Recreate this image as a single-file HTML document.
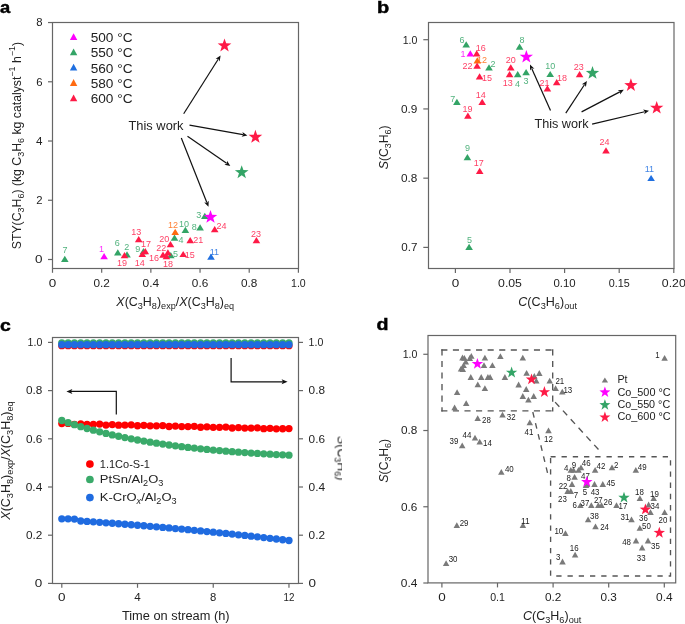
<!DOCTYPE html>
<html><head><meta charset="utf-8"><style>
html,body{margin:0;padding:0;background:#fff;}
body{width:685px;height:624px;overflow:hidden;}
svg{display:block;font-family:"Liberation Sans",sans-serif;will-change:transform;}
</style></head><body>
<svg width="685" height="624" viewBox="0 0 685 624">
<rect width="685" height="624" fill="#fff"/>
<text x="0" y="12.9" font-size="17" fill="#000" text-anchor="start" font-weight="bold" stroke="#000" stroke-width="0.45" textLength="10.2" lengthAdjust="spacingAndGlyphs">a</text>
<text x="376.9" y="13.3" font-size="17" fill="#000" text-anchor="start" font-weight="bold" stroke="#000" stroke-width="0.45" textLength="12.2" lengthAdjust="spacingAndGlyphs">b</text>
<text x="0" y="330.5" font-size="17" fill="#000" text-anchor="start" font-weight="bold" stroke="#000" stroke-width="0.45" textLength="10.8" lengthAdjust="spacingAndGlyphs">c</text>
<text x="376.5" y="330.2" font-size="17" fill="#000" text-anchor="start" font-weight="bold" stroke="#000" stroke-width="0.45" textLength="12" lengthAdjust="spacingAndGlyphs">d</text>
<rect x="52.5" y="22.5" width="246" height="246" fill="none" stroke="#666" stroke-width="1.2" />
<line x1="48" y1="259.5" x2="52.5" y2="259.5" stroke="#666" stroke-width="1.2" />
<text x="42.5" y="263.35" font-size="10.8" fill="#222" text-anchor="end"  textLength="7.5" lengthAdjust="spacingAndGlyphs">0</text>
<line x1="48" y1="200.26" x2="52.5" y2="200.26" stroke="#666" stroke-width="1.2" />
<text x="42.5" y="204.11" font-size="10.8" fill="#222" text-anchor="end"  textLength="6.3" lengthAdjust="spacingAndGlyphs">2</text>
<line x1="48" y1="141.02" x2="52.5" y2="141.02" stroke="#666" stroke-width="1.2" />
<text x="42.5" y="144.87" font-size="10.8" fill="#222" text-anchor="end"  textLength="6.5" lengthAdjust="spacingAndGlyphs">4</text>
<line x1="48" y1="81.78" x2="52.5" y2="81.78" stroke="#666" stroke-width="1.2" />
<text x="42.5" y="85.63" font-size="10.8" fill="#222" text-anchor="end"  textLength="6.3" lengthAdjust="spacingAndGlyphs">6</text>
<line x1="48" y1="22.54" x2="52.5" y2="22.54" stroke="#666" stroke-width="1.2" />
<text x="42.5" y="26.39" font-size="10.8" fill="#222" text-anchor="end"  textLength="6.3" lengthAdjust="spacingAndGlyphs">8</text>
<line x1="52.5" y1="268.5" x2="52.5" y2="272.8" stroke="#666" stroke-width="1.2" />
<text x="52.5" y="286.9" font-size="10.8" fill="#222" text-anchor="middle"  textLength="7.5" lengthAdjust="spacingAndGlyphs">0</text>
<line x1="101.68" y1="268.5" x2="101.68" y2="272.8" stroke="#666" stroke-width="1.2" />
<text x="101.68" y="286.9" font-size="10.8" fill="#222" text-anchor="middle"  textLength="16.4" lengthAdjust="spacingAndGlyphs">0.2</text>
<line x1="150.86" y1="268.5" x2="150.86" y2="272.8" stroke="#666" stroke-width="1.2" />
<text x="150.86" y="286.9" font-size="10.8" fill="#222" text-anchor="middle"  textLength="16.6" lengthAdjust="spacingAndGlyphs">0.4</text>
<line x1="200.04" y1="268.5" x2="200.04" y2="272.8" stroke="#666" stroke-width="1.2" />
<text x="200.04" y="286.9" font-size="10.8" fill="#222" text-anchor="middle"  textLength="16.4" lengthAdjust="spacingAndGlyphs">0.6</text>
<line x1="249.22" y1="268.5" x2="249.22" y2="272.8" stroke="#666" stroke-width="1.2" />
<text x="249.22" y="286.9" font-size="10.8" fill="#222" text-anchor="middle"  textLength="16.4" lengthAdjust="spacingAndGlyphs">0.8</text>
<line x1="298.4" y1="268.5" x2="298.4" y2="272.8" stroke="#666" stroke-width="1.2" />
<text x="298.4" y="286.9" font-size="10.8" fill="#222" text-anchor="middle"  textLength="14.7" lengthAdjust="spacingAndGlyphs">1.0</text>
<text x="175.25" y="306" font-size="12.0" fill="#222" text-anchor="middle"  textLength="117.8" lengthAdjust="spacingAndGlyphs"><tspan font-style="italic">X</tspan>(C<tspan font-size="8.8" dy="3">3</tspan><tspan dy="-3">H</tspan><tspan font-size="8.8" dy="3">8</tspan><tspan dy="-3">)</tspan><tspan font-size="8.8" dy="3">exp</tspan><tspan dy="-3">/</tspan><tspan font-style="italic">X</tspan>(C<tspan font-size="8.8" dy="3">3</tspan><tspan dy="-3">H</tspan><tspan font-size="8.8" dy="3">8</tspan><tspan dy="-3">)</tspan><tspan font-size="8.8" dy="3">eq</tspan></text>
<g transform="translate(20.8,145.55) rotate(-90)">
<text x="0" y="0" font-size="12.0" fill="#222" text-anchor="middle"  textLength="207.4" lengthAdjust="spacingAndGlyphs">STY(C<tspan font-size="8.8" dy="3">3</tspan><tspan dy="-3">H</tspan><tspan font-size="8.8" dy="3">6</tspan><tspan dy="-3">) (kg C</tspan><tspan font-size="8.8" dy="3">3</tspan><tspan dy="-3">H</tspan><tspan font-size="8.8" dy="3">6</tspan><tspan dy="-3"> kg catalyst</tspan><tspan font-size="8.8" dy="-5.8">−1</tspan><tspan dy="5.8"> h</tspan><tspan font-size="8.8" dy="-5.8">−1</tspan><tspan dy="5.8">)</tspan></text>
</g>
<path d="M73.6 33.2L77.3 40L69.9 40Z" fill="#ff00ff"/>
<text x="90.7" y="42" font-size="12.3" fill="#222" text-anchor="start"  textLength="41.8" lengthAdjust="spacingAndGlyphs">500 °C</text>
<path d="M73.6 48.5L77.3 55.3L69.9 55.3Z" fill="#33a466"/>
<text x="90.7" y="57.25" font-size="12.3" fill="#222" text-anchor="start"  textLength="41.8" lengthAdjust="spacingAndGlyphs">550 °C</text>
<path d="M73.6 63.8L77.3 70.6L69.9 70.6Z" fill="#1f6fe0"/>
<text x="90.7" y="72.5" font-size="12.3" fill="#222" text-anchor="start"  textLength="41.8" lengthAdjust="spacingAndGlyphs">560 °C</text>
<path d="M73.6 79.1L77.3 85.9L69.9 85.9Z" fill="#ff6a10"/>
<text x="90.7" y="87.75" font-size="12.3" fill="#222" text-anchor="start"  textLength="41.8" lengthAdjust="spacingAndGlyphs">580 °C</text>
<path d="M73.6 94.4L77.3 101.2L69.9 101.2Z" fill="#fe1a46"/>
<text x="90.7" y="103" font-size="12.3" fill="#222" text-anchor="start"  textLength="41.8" lengthAdjust="spacingAndGlyphs">600 °C</text>
<path d="M64.8 255.7L68.6 261.9L61 261.9Z" fill="#33a466"/>
<path d="M117.8 249.2L121.6 255.4L114 255.4Z" fill="#33a466"/>
<path d="M127 251.2L130.8 257.4L123.2 257.4Z" fill="#33a466"/>
<path d="M143.5 248L147.3 254.2L139.7 254.2Z" fill="#33a466"/>
<path d="M170.8 252.1L174.6 258.3L167 258.3Z" fill="#33a466"/>
<path d="M174.5 234.6L178.3 240.8L170.7 240.8Z" fill="#33a466"/>
<path d="M185.4 226.8L189.2 233L181.6 233Z" fill="#33a466"/>
<path d="M200.1 224.3L203.9 230.5L196.3 230.5Z" fill="#33a466"/>
<path d="M204.8 212.7L208.6 218.9L201 218.9Z" fill="#33a466"/>
<path d="M104.1 253.1L107.9 259.3L100.3 259.3Z" fill="#ff00ff"/>
<path d="M175.2 228.7L179 234.9L171.4 234.9Z" fill="#ff6a10"/>
<path d="M211 253.5L214.8 259.7L207.2 259.7Z" fill="#1f6fe0"/>
<path d="M124.5 252.1L128.3 258.3L120.7 258.3Z" fill="#fe1a46"/>
<path d="M138.7 236L142.5 242.2L134.9 242.2Z" fill="#fe1a46"/>
<path d="M145.3 248L149.1 254.2L141.5 254.2Z" fill="#fe1a46"/>
<path d="M142.3 250.9L146.1 257.1L138.5 257.1Z" fill="#fe1a46"/>
<path d="M163 251.6L166.8 257.8L159.2 257.8Z" fill="#fe1a46"/>
<path d="M167.9 249.2L171.7 255.4L164.1 255.4Z" fill="#fe1a46"/>
<path d="M166.4 253.1L170.2 259.3L162.6 259.3Z" fill="#fe1a46"/>
<path d="M170.5 241L174.3 247.2L166.7 247.2Z" fill="#fe1a46"/>
<path d="M183.2 250.9L187 257.1L179.4 257.1Z" fill="#fe1a46"/>
<path d="M190.2 237L194 243.2L186.4 243.2Z" fill="#fe1a46"/>
<path d="M214.7 226.1L218.5 232.3L210.9 232.3Z" fill="#fe1a46"/>
<path d="M256.4 237L260.2 243.2L252.6 243.2Z" fill="#fe1a46"/>
<text x="65" y="253.3" font-size="9" fill="#33a466" text-anchor="middle" fill-opacity="0.85">7</text>
<text x="117.2" y="246.2" font-size="9" fill="#33a466" text-anchor="middle" fill-opacity="0.85">6</text>
<text x="126.7" y="249.9" font-size="9" fill="#33a466" text-anchor="middle" fill-opacity="0.85">2</text>
<text x="137.7" y="251.8" font-size="9" fill="#33a466" text-anchor="middle" fill-opacity="0.85">9</text>
<text x="175.6" y="256.5" font-size="9" fill="#33a466" text-anchor="middle" fill-opacity="0.85">5</text>
<text x="181" y="242.9" font-size="9" fill="#33a466" text-anchor="middle" fill-opacity="0.85">4</text>
<text x="184" y="226.6" font-size="9" fill="#33a466" text-anchor="middle" fill-opacity="0.85">10</text>
<text x="194.2" y="229.9" font-size="9" fill="#33a466" text-anchor="middle" fill-opacity="0.85">8</text>
<text x="198.7" y="217.8" font-size="9" fill="#33a466" text-anchor="middle" fill-opacity="0.85">3</text>
<text x="101.5" y="252.2" font-size="9" fill="#ff00ff" text-anchor="middle" fill-opacity="0.85">1</text>
<text x="173" y="227.7" font-size="9" fill="#ff6a10" text-anchor="middle" fill-opacity="0.85">12</text>
<text x="214.3" y="255" font-size="9" fill="#1f6fe0" text-anchor="middle" fill-opacity="0.85">11</text>
<text x="121.9" y="266.2" font-size="9" fill="#fe1a46" text-anchor="middle" fill-opacity="0.85">19</text>
<text x="136.2" y="235" font-size="9" fill="#fe1a46" text-anchor="middle" fill-opacity="0.85">13</text>
<text x="146" y="247" font-size="9" fill="#fe1a46" text-anchor="middle" fill-opacity="0.85">17</text>
<text x="139.7" y="265.7" font-size="9" fill="#fe1a46" text-anchor="middle" fill-opacity="0.85">14</text>
<text x="154" y="261.2" font-size="9" fill="#fe1a46" text-anchor="middle" fill-opacity="0.85">16</text>
<text x="161.3" y="251.4" font-size="9" fill="#fe1a46" text-anchor="middle" fill-opacity="0.85">22</text>
<text x="167.9" y="266.7" font-size="9" fill="#fe1a46" text-anchor="middle" fill-opacity="0.85">18</text>
<text x="164.2" y="242.3" font-size="9" fill="#fe1a46" text-anchor="middle" fill-opacity="0.85">20</text>
<text x="189.8" y="258.4" font-size="9" fill="#fe1a46" text-anchor="middle" fill-opacity="0.85">15</text>
<text x="198.2" y="242.9" font-size="9" fill="#fe1a46" text-anchor="middle" fill-opacity="0.85">21</text>
<text x="221.6" y="229" font-size="9" fill="#fe1a46" text-anchor="middle" fill-opacity="0.85">24</text>
<text x="255.9" y="236.5" font-size="9" fill="#fe1a46" text-anchor="middle" fill-opacity="0.85">23</text>
<polygon points="224.5,38.5 226.19,43.37 231.35,43.48 227.24,46.59 228.73,51.52 224.5,48.58 220.27,51.52 221.76,46.59 217.65,43.48 222.81,43.37" fill="#fe1a46"/>
<polygon points="255.4,129.8 257.09,134.67 262.25,134.78 258.14,137.89 259.63,142.82 255.4,139.88 251.17,142.82 252.66,137.89 248.55,134.78 253.71,134.67" fill="#fe1a46"/>
<polygon points="241.7,165.2 243.39,170.07 248.55,170.18 244.44,173.29 245.93,178.22 241.7,175.28 237.47,178.22 238.96,173.29 234.85,170.18 240.01,170.07" fill="#33a466"/>
<polygon points="210.5,210 212.17,214.8 217.25,214.91 213.2,217.98 214.67,222.84 210.5,219.94 206.33,222.84 207.8,217.98 203.75,214.91 208.83,214.8" fill="#ff00ff"/>
<text x="128.5" y="130" font-size="12.0" fill="#222" text-anchor="start"  textLength="55" lengthAdjust="spacingAndGlyphs">This work</text>
<line x1="183.7" y1="113.8" x2="218.19" y2="59.3" stroke="#111" stroke-width="1.2"/>
<path d="M220.6 55.5L219.69 61.43L218.39 58.99L215.63 58.86Z" fill="#111"/>
<line x1="189.5" y1="125.1" x2="242.97" y2="134.61" stroke="#111" stroke-width="1.2"/>
<path d="M247.4 135.4L241.56 136.8L243.34 134.68L242.41 132.07Z" fill="#111"/>
<line x1="187.5" y1="136.2" x2="226.6" y2="163.33" stroke="#111" stroke-width="1.2"/>
<path d="M230.3 165.9L224.41 164.74L226.91 163.55L227.15 160.79Z" fill="#111"/>
<line x1="181.3" y1="138" x2="206.84" y2="202.52" stroke="#111" stroke-width="1.2"/>
<path d="M208.5 206.7L204.24 202.47L206.98 202.86L208.71 200.7Z" fill="#111"/>
<rect x="428.5" y="22.5" width="245.5" height="246" fill="none" stroke="#666" stroke-width="1.2" />
<line x1="423.3" y1="39.7" x2="428.5" y2="39.7" stroke="#666" stroke-width="1.2" />
<text x="417.4" y="43.55" font-size="10.8" fill="#222" text-anchor="end"  textLength="14.7" lengthAdjust="spacingAndGlyphs">1.0</text>
<line x1="423.3" y1="108.93" x2="428.5" y2="108.93" stroke="#666" stroke-width="1.2" />
<text x="417.4" y="112.78" font-size="10.8" fill="#222" text-anchor="end"  textLength="16.4" lengthAdjust="spacingAndGlyphs">0.9</text>
<line x1="423.3" y1="178.16" x2="428.5" y2="178.16" stroke="#666" stroke-width="1.2" />
<text x="417.4" y="182.01" font-size="10.8" fill="#222" text-anchor="end"  textLength="16.4" lengthAdjust="spacingAndGlyphs">0.8</text>
<line x1="423.3" y1="247.39" x2="428.5" y2="247.39" stroke="#666" stroke-width="1.2" />
<text x="417.4" y="251.24" font-size="10.8" fill="#222" text-anchor="end"  textLength="16.1" lengthAdjust="spacingAndGlyphs">0.7</text>
<line x1="455.4" y1="268.5" x2="455.4" y2="273" stroke="#666" stroke-width="1.2" />
<text x="455.4" y="286.9" font-size="10.8" fill="#222" text-anchor="middle"  textLength="7.5" lengthAdjust="spacingAndGlyphs">0</text>
<line x1="510" y1="268.5" x2="510" y2="273" stroke="#666" stroke-width="1.2" />
<text x="510" y="286.9" font-size="10.8" fill="#222" text-anchor="middle"  textLength="23.9" lengthAdjust="spacingAndGlyphs">0.05</text>
<line x1="564.6" y1="268.5" x2="564.6" y2="273" stroke="#666" stroke-width="1.2" />
<text x="564.6" y="286.9" font-size="10.8" fill="#222" text-anchor="middle"  textLength="22.2" lengthAdjust="spacingAndGlyphs">0.10</text>
<line x1="619.2" y1="268.5" x2="619.2" y2="273" stroke="#666" stroke-width="1.2" />
<text x="619.2" y="286.9" font-size="10.8" fill="#222" text-anchor="middle"  textLength="21" lengthAdjust="spacingAndGlyphs">0.15</text>
<line x1="673.8" y1="268.5" x2="673.8" y2="273" stroke="#666" stroke-width="1.2" />
<text x="673.8" y="286.9" font-size="10.8" fill="#222" text-anchor="middle"  textLength="23.9" lengthAdjust="spacingAndGlyphs">0.20</text>
<text x="547.65" y="306.3" font-size="12.0" fill="#222" text-anchor="middle"  textLength="58.7" lengthAdjust="spacingAndGlyphs"><tspan font-style="italic">C</tspan>(C<tspan font-size="8.8" dy="3">3</tspan><tspan dy="-3">H</tspan><tspan font-size="8.8" dy="3">6</tspan><tspan dy="-3">)</tspan><tspan font-size="8.8" dy="3">out</tspan></text>
<g transform="translate(387.9,147.3) rotate(-90)">
<text x="0" y="0" font-size="12.0" fill="#222" text-anchor="middle"  textLength="43.8" lengthAdjust="spacingAndGlyphs"><tspan font-style="italic">S</tspan>(C<tspan font-size="8.8" dy="3">3</tspan><tspan dy="-3">H</tspan><tspan font-size="8.8" dy="3">6</tspan><tspan dy="-3">)</tspan></text>
</g>
<path d="M466.2 41.2L470 47.4L462.4 47.4Z" fill="#33a466"/>
<path d="M489 64.2L492.8 70.4L485.2 70.4Z" fill="#33a466"/>
<path d="M519.6 43.5L523.4 49.7L515.8 49.7Z" fill="#33a466"/>
<path d="M517.7 71.1L521.5 77.3L513.9 77.3Z" fill="#33a466"/>
<path d="M526.1 69L529.9 75.2L522.3 75.2Z" fill="#33a466"/>
<path d="M550.2 70.9L554 77.1L546.4 77.1Z" fill="#33a466"/>
<path d="M456.9 98.8L460.7 105L453.1 105Z" fill="#33a466"/>
<path d="M467.4 154L471.2 160.2L463.6 160.2Z" fill="#33a466"/>
<path d="M469.1 243.8L472.9 250L465.3 250Z" fill="#33a466"/>
<path d="M470.3 50.2L474.1 56.4L466.5 56.4Z" fill="#ff00ff"/>
<path d="M477.3 57.3L481.1 63.5L473.5 63.5Z" fill="#ff6a10"/>
<path d="M651.1 174.9L654.9 181.1L647.3 181.1Z" fill="#1f6fe0"/>
<path d="M476.7 50.3L480.5 56.5L472.9 56.5Z" fill="#fe1a46"/>
<path d="M477.1 62.5L480.9 68.7L473.3 68.7Z" fill="#fe1a46"/>
<path d="M479.6 73.3L483.4 79.5L475.8 79.5Z" fill="#fe1a46"/>
<path d="M510.8 64.2L514.6 70.4L507 70.4Z" fill="#fe1a46"/>
<path d="M509.6 71.1L513.4 77.3L505.8 77.3Z" fill="#fe1a46"/>
<path d="M556.7 79L560.5 85.2L552.9 85.2Z" fill="#fe1a46"/>
<path d="M547.4 85.2L551.2 91.4L543.6 91.4Z" fill="#fe1a46"/>
<path d="M579.6 71L583.4 77.2L575.8 77.2Z" fill="#fe1a46"/>
<path d="M482.2 98.8L486 105L478.4 105Z" fill="#fe1a46"/>
<path d="M467.9 112.6L471.7 118.8L464.1 118.8Z" fill="#fe1a46"/>
<path d="M479.7 167.8L483.5 174L475.9 174Z" fill="#fe1a46"/>
<path d="M606 147.3L609.8 153.5L602.2 153.5Z" fill="#fe1a46"/>
<text x="462.1" y="42.8" font-size="9" fill="#33a466" text-anchor="middle" fill-opacity="0.85">6</text>
<text x="493" y="66.7" font-size="9" fill="#33a466" text-anchor="middle" fill-opacity="0.85">2</text>
<text x="522" y="43.2" font-size="9" fill="#33a466" text-anchor="middle" fill-opacity="0.85">8</text>
<text x="517.4" y="87.1" font-size="9" fill="#33a466" text-anchor="middle" fill-opacity="0.85">4</text>
<text x="526" y="83.7" font-size="9" fill="#33a466" text-anchor="middle" fill-opacity="0.85">3</text>
<text x="550.2" y="69.3" font-size="9" fill="#33a466" text-anchor="middle" fill-opacity="0.85">10</text>
<text x="452.7" y="101.7" font-size="9" fill="#33a466" text-anchor="middle" fill-opacity="0.85">7</text>
<text x="467.4" y="151.4" font-size="9" fill="#33a466" text-anchor="middle" fill-opacity="0.85">9</text>
<text x="469.4" y="242.6" font-size="9" fill="#33a466" text-anchor="middle" fill-opacity="0.85">5</text>
<text x="463" y="56.8" font-size="9" fill="#ff00ff" text-anchor="middle" fill-opacity="0.85">1</text>
<text x="482" y="62.7" font-size="9" fill="#ff6a10" text-anchor="middle" fill-opacity="0.85">12</text>
<text x="649.4" y="172.4" font-size="9" fill="#1f6fe0" text-anchor="middle" fill-opacity="0.85">11</text>
<text x="480.8" y="51" font-size="9" fill="#fe1a46" text-anchor="middle" fill-opacity="0.85">16</text>
<text x="467.6" y="69.3" font-size="9" fill="#fe1a46" text-anchor="middle" fill-opacity="0.85">22</text>
<text x="487" y="80.8" font-size="9" fill="#fe1a46" text-anchor="middle" fill-opacity="0.85">15</text>
<text x="510.8" y="63" font-size="9" fill="#fe1a46" text-anchor="middle" fill-opacity="0.85">20</text>
<text x="507.8" y="85.6" font-size="9" fill="#fe1a46" text-anchor="middle" fill-opacity="0.85">13</text>
<text x="561.9" y="81.1" font-size="9" fill="#fe1a46" text-anchor="middle" fill-opacity="0.85">18</text>
<text x="544.4" y="85.6" font-size="9" fill="#fe1a46" text-anchor="middle" fill-opacity="0.85">21</text>
<text x="578.8" y="70.1" font-size="9" fill="#fe1a46" text-anchor="middle" fill-opacity="0.85">23</text>
<text x="480.8" y="97.5" font-size="9" fill="#fe1a46" text-anchor="middle" fill-opacity="0.85">14</text>
<text x="467.4" y="111.5" font-size="9" fill="#fe1a46" text-anchor="middle" fill-opacity="0.85">19</text>
<text x="478.8" y="166" font-size="9" fill="#fe1a46" text-anchor="middle" fill-opacity="0.85">17</text>
<text x="604.5" y="145" font-size="9" fill="#fe1a46" text-anchor="middle" fill-opacity="0.85">24</text>
<polygon points="526.35,49.9 528,54.63 533.01,54.74 529.01,57.77 530.46,62.56 526.35,59.7 522.24,62.56 523.69,57.77 519.69,54.74 524.7,54.63" fill="#ff00ff"/>
<polygon points="592.5,66.1 594.15,70.83 599.16,70.94 595.16,73.97 596.61,78.76 592.5,75.9 588.39,78.76 589.84,73.97 585.84,70.94 590.85,70.83" fill="#33a466"/>
<polygon points="630.9,78.3 632.55,83.03 637.56,83.14 633.56,86.17 635.01,90.96 630.9,88.1 626.79,90.96 628.24,86.17 624.24,83.14 629.25,83.03" fill="#fe1a46"/>
<polygon points="656.7,100.9 658.35,105.63 663.36,105.74 659.36,108.77 660.81,113.56 656.7,110.7 652.59,113.56 654.04,108.77 650.04,105.74 655.05,105.63" fill="#fe1a46"/>
<text x="534.4" y="127.6" font-size="12.0" fill="#222" text-anchor="start"  textLength="54.2" lengthAdjust="spacingAndGlyphs">This work</text>
<line x1="550.5" y1="110.6" x2="531.83" y2="68.71" stroke="#111" stroke-width="1.2"/>
<path d="M530 64.6L534.43 68.65L531.68 68.37L530.05 70.6Z" fill="#111"/>
<line x1="565.8" y1="113.2" x2="584.43" y2="84.76" stroke="#111" stroke-width="1.2"/>
<path d="M586.9 81L585.89 86.92L584.64 84.45L581.88 84.28Z" fill="#111"/>
<line x1="581.6" y1="111.9" x2="619.81" y2="91.89" stroke="#111" stroke-width="1.2"/>
<path d="M623.8 89.8L620.04 94.48L620.15 91.71L617.81 90.23Z" fill="#111"/>
<line x1="592.1" y1="124.1" x2="644.62" y2="111.73" stroke="#111" stroke-width="1.2"/>
<path d="M649 110.7L644.2 114.3L644.98 111.65L643.1 109.62Z" fill="#111"/>
<rect x="52.5" y="337.5" width="246" height="246" fill="none" stroke="#666" stroke-width="1.2" />
<line x1="48" y1="583.4" x2="52.5" y2="583.4" stroke="#666" stroke-width="1.2" />
<line x1="298.5" y1="583.4" x2="303" y2="583.4" stroke="#666" stroke-width="1.2" />
<text x="42.3" y="587.25" font-size="10.8" fill="#222" text-anchor="end"  textLength="7.5" lengthAdjust="spacingAndGlyphs">0</text>
<text x="308.6" y="587.25" font-size="10.8" fill="#222" text-anchor="start"  textLength="7.5" lengthAdjust="spacingAndGlyphs">0</text>
<line x1="48" y1="535.2" x2="52.5" y2="535.2" stroke="#666" stroke-width="1.2" />
<line x1="298.5" y1="535.2" x2="303" y2="535.2" stroke="#666" stroke-width="1.2" />
<text x="42.3" y="539.05" font-size="10.8" fill="#222" text-anchor="end"  textLength="16.4" lengthAdjust="spacingAndGlyphs">0.2</text>
<text x="308.6" y="539.05" font-size="10.8" fill="#222" text-anchor="start"  textLength="16.4" lengthAdjust="spacingAndGlyphs">0.2</text>
<line x1="48" y1="487" x2="52.5" y2="487" stroke="#666" stroke-width="1.2" />
<line x1="298.5" y1="487" x2="303" y2="487" stroke="#666" stroke-width="1.2" />
<text x="42.3" y="490.85" font-size="10.8" fill="#222" text-anchor="end"  textLength="16.6" lengthAdjust="spacingAndGlyphs">0.4</text>
<text x="308.6" y="490.85" font-size="10.8" fill="#222" text-anchor="start"  textLength="16.6" lengthAdjust="spacingAndGlyphs">0.4</text>
<line x1="48" y1="438.8" x2="52.5" y2="438.8" stroke="#666" stroke-width="1.2" />
<line x1="298.5" y1="438.8" x2="303" y2="438.8" stroke="#666" stroke-width="1.2" />
<text x="42.3" y="442.65" font-size="10.8" fill="#222" text-anchor="end"  textLength="16.4" lengthAdjust="spacingAndGlyphs">0.6</text>
<text x="308.6" y="442.65" font-size="10.8" fill="#222" text-anchor="start"  textLength="16.4" lengthAdjust="spacingAndGlyphs">0.6</text>
<line x1="48" y1="390.6" x2="52.5" y2="390.6" stroke="#666" stroke-width="1.2" />
<line x1="298.5" y1="390.6" x2="303" y2="390.6" stroke="#666" stroke-width="1.2" />
<text x="42.3" y="394.45" font-size="10.8" fill="#222" text-anchor="end"  textLength="16.4" lengthAdjust="spacingAndGlyphs">0.8</text>
<text x="308.6" y="394.45" font-size="10.8" fill="#222" text-anchor="start"  textLength="16.4" lengthAdjust="spacingAndGlyphs">0.8</text>
<line x1="48" y1="342.4" x2="52.5" y2="342.4" stroke="#666" stroke-width="1.2" />
<line x1="298.5" y1="342.4" x2="303" y2="342.4" stroke="#666" stroke-width="1.2" />
<text x="42.3" y="346.25" font-size="10.8" fill="#222" text-anchor="end"  textLength="14.7" lengthAdjust="spacingAndGlyphs">1.0</text>
<text x="308.6" y="346.25" font-size="10.8" fill="#222" text-anchor="start"  textLength="14.7" lengthAdjust="spacingAndGlyphs">1.0</text>
<line x1="61.8" y1="583.5" x2="61.8" y2="587.8" stroke="#666" stroke-width="1.2" />
<text x="61.8" y="601.2" font-size="10.8" fill="#222" text-anchor="middle"  textLength="7.5" lengthAdjust="spacingAndGlyphs">0</text>
<line x1="137.52" y1="583.5" x2="137.52" y2="587.8" stroke="#666" stroke-width="1.2" />
<text x="137.52" y="601.2" font-size="10.8" fill="#222" text-anchor="middle"  textLength="6.5" lengthAdjust="spacingAndGlyphs">4</text>
<line x1="213.24" y1="583.5" x2="213.24" y2="587.8" stroke="#666" stroke-width="1.2" />
<text x="213.24" y="601.2" font-size="10.8" fill="#222" text-anchor="middle"  textLength="6.3" lengthAdjust="spacingAndGlyphs">8</text>
<line x1="288.96" y1="583.5" x2="288.96" y2="587.8" stroke="#666" stroke-width="1.2" />
<text x="288.96" y="601.2" font-size="10.8" fill="#222" text-anchor="middle"  textLength="10.9" lengthAdjust="spacingAndGlyphs">12</text>
<text x="175.75" y="619.7" font-size="12.0" fill="#222" text-anchor="middle"  textLength="107.7" lengthAdjust="spacingAndGlyphs">Time on stream (h)</text>
<g transform="translate(10.4,460.5) rotate(-90)">
<text x="0" y="0" font-size="12.0" fill="#222" text-anchor="middle"  textLength="118.4" lengthAdjust="spacingAndGlyphs"><tspan font-style="italic">X</tspan>(C<tspan font-size="8.8" dy="3">3</tspan><tspan dy="-3">H</tspan><tspan font-size="8.8" dy="3">8</tspan><tspan dy="-3">)</tspan><tspan font-size="8.8" dy="3">exp</tspan><tspan dy="-3">/</tspan><tspan font-style="italic">X</tspan>(C<tspan font-size="8.8" dy="3">3</tspan><tspan dy="-3">H</tspan><tspan font-size="8.8" dy="3">8</tspan><tspan dy="-3">)</tspan><tspan font-size="8.8" dy="3">eq</tspan></text>
</g>
<svg x="0" y="312" width="342" height="312" overflow="hidden"><g transform="translate(337.6,146.35) rotate(90)">
<text x="0" y="0" font-size="12.0" fill="#222" text-anchor="middle"  textLength="44.3" lengthAdjust="spacingAndGlyphs"><tspan font-style="italic">S</tspan>(C<tspan font-size="8.8" dy="3">3</tspan><tspan dy="-3">H</tspan><tspan font-size="8.8" dy="3">6</tspan><tspan dy="-3">)</tspan></text>
</g></svg>
<circle cx="61.8" cy="345.7" r="3.65" fill="#ff0000"/>
<circle cx="68.11" cy="345.7" r="3.65" fill="#ff0000"/>
<circle cx="74.42" cy="345.7" r="3.65" fill="#ff0000"/>
<circle cx="80.73" cy="345.7" r="3.65" fill="#ff0000"/>
<circle cx="87.04" cy="345.7" r="3.65" fill="#ff0000"/>
<circle cx="93.35" cy="345.7" r="3.65" fill="#ff0000"/>
<circle cx="99.66" cy="345.7" r="3.65" fill="#ff0000"/>
<circle cx="105.97" cy="345.7" r="3.65" fill="#ff0000"/>
<circle cx="112.28" cy="345.7" r="3.65" fill="#ff0000"/>
<circle cx="118.59" cy="345.7" r="3.65" fill="#ff0000"/>
<circle cx="124.9" cy="345.7" r="3.65" fill="#ff0000"/>
<circle cx="131.21" cy="345.7" r="3.65" fill="#ff0000"/>
<circle cx="137.52" cy="345.7" r="3.65" fill="#ff0000"/>
<circle cx="143.83" cy="345.7" r="3.65" fill="#ff0000"/>
<circle cx="150.14" cy="345.7" r="3.65" fill="#ff0000"/>
<circle cx="156.45" cy="345.7" r="3.65" fill="#ff0000"/>
<circle cx="162.76" cy="345.7" r="3.65" fill="#ff0000"/>
<circle cx="169.07" cy="345.7" r="3.65" fill="#ff0000"/>
<circle cx="175.38" cy="345.7" r="3.65" fill="#ff0000"/>
<circle cx="181.69" cy="345.7" r="3.65" fill="#ff0000"/>
<circle cx="188" cy="345.7" r="3.65" fill="#ff0000"/>
<circle cx="194.31" cy="345.7" r="3.65" fill="#ff0000"/>
<circle cx="200.62" cy="345.7" r="3.65" fill="#ff0000"/>
<circle cx="206.93" cy="345.7" r="3.65" fill="#ff0000"/>
<circle cx="213.24" cy="345.7" r="3.65" fill="#ff0000"/>
<circle cx="219.55" cy="345.7" r="3.65" fill="#ff0000"/>
<circle cx="225.86" cy="345.7" r="3.65" fill="#ff0000"/>
<circle cx="232.17" cy="345.7" r="3.65" fill="#ff0000"/>
<circle cx="238.48" cy="345.7" r="3.65" fill="#ff0000"/>
<circle cx="244.79" cy="345.7" r="3.65" fill="#ff0000"/>
<circle cx="251.1" cy="345.7" r="3.65" fill="#ff0000"/>
<circle cx="257.41" cy="345.7" r="3.65" fill="#ff0000"/>
<circle cx="263.72" cy="345.7" r="3.65" fill="#ff0000"/>
<circle cx="270.03" cy="345.7" r="3.65" fill="#ff0000"/>
<circle cx="276.34" cy="345.7" r="3.65" fill="#ff0000"/>
<circle cx="282.65" cy="345.7" r="3.65" fill="#ff0000"/>
<circle cx="288.96" cy="345.7" r="3.65" fill="#ff0000"/>
<circle cx="61.8" cy="342.8" r="3.65" fill="#3aaa6a"/>
<circle cx="68.11" cy="342.8" r="3.65" fill="#3aaa6a"/>
<circle cx="74.42" cy="342.8" r="3.65" fill="#3aaa6a"/>
<circle cx="80.73" cy="342.8" r="3.65" fill="#3aaa6a"/>
<circle cx="87.04" cy="342.8" r="3.65" fill="#3aaa6a"/>
<circle cx="93.35" cy="342.8" r="3.65" fill="#3aaa6a"/>
<circle cx="99.66" cy="342.8" r="3.65" fill="#3aaa6a"/>
<circle cx="105.97" cy="342.8" r="3.65" fill="#3aaa6a"/>
<circle cx="112.28" cy="342.8" r="3.65" fill="#3aaa6a"/>
<circle cx="118.59" cy="342.8" r="3.65" fill="#3aaa6a"/>
<circle cx="124.9" cy="342.8" r="3.65" fill="#3aaa6a"/>
<circle cx="131.21" cy="342.8" r="3.65" fill="#3aaa6a"/>
<circle cx="137.52" cy="342.8" r="3.65" fill="#3aaa6a"/>
<circle cx="143.83" cy="342.8" r="3.65" fill="#3aaa6a"/>
<circle cx="150.14" cy="342.8" r="3.65" fill="#3aaa6a"/>
<circle cx="156.45" cy="342.8" r="3.65" fill="#3aaa6a"/>
<circle cx="162.76" cy="342.8" r="3.65" fill="#3aaa6a"/>
<circle cx="169.07" cy="342.8" r="3.65" fill="#3aaa6a"/>
<circle cx="175.38" cy="342.8" r="3.65" fill="#3aaa6a"/>
<circle cx="181.69" cy="342.8" r="3.65" fill="#3aaa6a"/>
<circle cx="188" cy="342.8" r="3.65" fill="#3aaa6a"/>
<circle cx="194.31" cy="342.8" r="3.65" fill="#3aaa6a"/>
<circle cx="200.62" cy="342.8" r="3.65" fill="#3aaa6a"/>
<circle cx="206.93" cy="342.8" r="3.65" fill="#3aaa6a"/>
<circle cx="213.24" cy="342.8" r="3.65" fill="#3aaa6a"/>
<circle cx="219.55" cy="342.8" r="3.65" fill="#3aaa6a"/>
<circle cx="225.86" cy="342.8" r="3.65" fill="#3aaa6a"/>
<circle cx="232.17" cy="342.8" r="3.65" fill="#3aaa6a"/>
<circle cx="238.48" cy="342.8" r="3.65" fill="#3aaa6a"/>
<circle cx="244.79" cy="342.8" r="3.65" fill="#3aaa6a"/>
<circle cx="251.1" cy="342.8" r="3.65" fill="#3aaa6a"/>
<circle cx="257.41" cy="342.8" r="3.65" fill="#3aaa6a"/>
<circle cx="263.72" cy="342.8" r="3.65" fill="#3aaa6a"/>
<circle cx="270.03" cy="342.8" r="3.65" fill="#3aaa6a"/>
<circle cx="276.34" cy="342.8" r="3.65" fill="#3aaa6a"/>
<circle cx="282.65" cy="342.8" r="3.65" fill="#3aaa6a"/>
<circle cx="288.96" cy="342.8" r="3.65" fill="#3aaa6a"/>
<circle cx="61.8" cy="344.7" r="3.65" fill="#1f6be0"/>
<circle cx="68.11" cy="344.7" r="3.65" fill="#1f6be0"/>
<circle cx="74.42" cy="344.7" r="3.65" fill="#1f6be0"/>
<circle cx="80.73" cy="344.7" r="3.65" fill="#1f6be0"/>
<circle cx="87.04" cy="344.7" r="3.65" fill="#1f6be0"/>
<circle cx="93.35" cy="344.7" r="3.65" fill="#1f6be0"/>
<circle cx="99.66" cy="344.7" r="3.65" fill="#1f6be0"/>
<circle cx="105.97" cy="344.7" r="3.65" fill="#1f6be0"/>
<circle cx="112.28" cy="344.7" r="3.65" fill="#1f6be0"/>
<circle cx="118.59" cy="344.7" r="3.65" fill="#1f6be0"/>
<circle cx="124.9" cy="344.7" r="3.65" fill="#1f6be0"/>
<circle cx="131.21" cy="344.7" r="3.65" fill="#1f6be0"/>
<circle cx="137.52" cy="344.7" r="3.65" fill="#1f6be0"/>
<circle cx="143.83" cy="344.7" r="3.65" fill="#1f6be0"/>
<circle cx="150.14" cy="344.7" r="3.65" fill="#1f6be0"/>
<circle cx="156.45" cy="344.7" r="3.65" fill="#1f6be0"/>
<circle cx="162.76" cy="344.7" r="3.65" fill="#1f6be0"/>
<circle cx="169.07" cy="344.7" r="3.65" fill="#1f6be0"/>
<circle cx="175.38" cy="344.7" r="3.65" fill="#1f6be0"/>
<circle cx="181.69" cy="344.7" r="3.65" fill="#1f6be0"/>
<circle cx="188" cy="344.7" r="3.65" fill="#1f6be0"/>
<circle cx="194.31" cy="344.7" r="3.65" fill="#1f6be0"/>
<circle cx="200.62" cy="344.7" r="3.65" fill="#1f6be0"/>
<circle cx="206.93" cy="344.7" r="3.65" fill="#1f6be0"/>
<circle cx="213.24" cy="344.7" r="3.65" fill="#1f6be0"/>
<circle cx="219.55" cy="344.7" r="3.65" fill="#1f6be0"/>
<circle cx="225.86" cy="344.7" r="3.65" fill="#1f6be0"/>
<circle cx="232.17" cy="344.7" r="3.65" fill="#1f6be0"/>
<circle cx="238.48" cy="344.7" r="3.65" fill="#1f6be0"/>
<circle cx="244.79" cy="344.7" r="3.65" fill="#1f6be0"/>
<circle cx="251.1" cy="344.7" r="3.65" fill="#1f6be0"/>
<circle cx="257.41" cy="344.7" r="3.65" fill="#1f6be0"/>
<circle cx="263.72" cy="344.7" r="3.65" fill="#1f6be0"/>
<circle cx="270.03" cy="344.7" r="3.65" fill="#1f6be0"/>
<circle cx="276.34" cy="344.7" r="3.65" fill="#1f6be0"/>
<circle cx="282.65" cy="344.7" r="3.65" fill="#1f6be0"/>
<circle cx="288.96" cy="344.7" r="3.65" fill="#1f6be0"/>
<circle cx="61.8" cy="423.62" r="3.65" fill="#ff0000"/>
<circle cx="68.11" cy="423.38" r="3.65" fill="#ff0000"/>
<circle cx="74.42" cy="424.3" r="3.65" fill="#ff0000"/>
<circle cx="80.73" cy="423.87" r="3.65" fill="#ff0000"/>
<circle cx="87.04" cy="424.4" r="3.65" fill="#ff0000"/>
<circle cx="93.35" cy="424.35" r="3.65" fill="#ff0000"/>
<circle cx="99.66" cy="424.12" r="3.65" fill="#ff0000"/>
<circle cx="105.97" cy="425.03" r="3.65" fill="#ff0000"/>
<circle cx="112.28" cy="424.6" r="3.65" fill="#ff0000"/>
<circle cx="118.59" cy="425.14" r="3.65" fill="#ff0000"/>
<circle cx="124.9" cy="425.09" r="3.65" fill="#ff0000"/>
<circle cx="131.21" cy="424.85" r="3.65" fill="#ff0000"/>
<circle cx="137.52" cy="425.77" r="3.65" fill="#ff0000"/>
<circle cx="143.83" cy="425.34" r="3.65" fill="#ff0000"/>
<circle cx="150.14" cy="425.87" r="3.65" fill="#ff0000"/>
<circle cx="156.45" cy="425.83" r="3.65" fill="#ff0000"/>
<circle cx="162.76" cy="425.59" r="3.65" fill="#ff0000"/>
<circle cx="169.07" cy="426.51" r="3.65" fill="#ff0000"/>
<circle cx="175.38" cy="426.08" r="3.65" fill="#ff0000"/>
<circle cx="181.69" cy="426.61" r="3.65" fill="#ff0000"/>
<circle cx="188" cy="426.56" r="3.65" fill="#ff0000"/>
<circle cx="194.31" cy="426.32" r="3.65" fill="#ff0000"/>
<circle cx="200.62" cy="427.24" r="3.65" fill="#ff0000"/>
<circle cx="206.93" cy="426.81" r="3.65" fill="#ff0000"/>
<circle cx="213.24" cy="427.34" r="3.65" fill="#ff0000"/>
<circle cx="219.55" cy="427.3" r="3.65" fill="#ff0000"/>
<circle cx="225.86" cy="427.06" r="3.65" fill="#ff0000"/>
<circle cx="232.17" cy="427.98" r="3.65" fill="#ff0000"/>
<circle cx="238.48" cy="427.55" r="3.65" fill="#ff0000"/>
<circle cx="244.79" cy="428.08" r="3.65" fill="#ff0000"/>
<circle cx="251.1" cy="428.04" r="3.65" fill="#ff0000"/>
<circle cx="257.41" cy="427.8" r="3.65" fill="#ff0000"/>
<circle cx="263.72" cy="428.72" r="3.65" fill="#ff0000"/>
<circle cx="270.03" cy="428.28" r="3.65" fill="#ff0000"/>
<circle cx="276.34" cy="428.82" r="3.65" fill="#ff0000"/>
<circle cx="282.65" cy="428.77" r="3.65" fill="#ff0000"/>
<circle cx="288.96" cy="428.53" r="3.65" fill="#ff0000"/>
<circle cx="61.8" cy="420.48" r="3.65" fill="#3aaa6a"/>
<circle cx="68.11" cy="422.65" r="3.65" fill="#3aaa6a"/>
<circle cx="74.42" cy="424.7" r="3.65" fill="#3aaa6a"/>
<circle cx="80.73" cy="426.64" r="3.65" fill="#3aaa6a"/>
<circle cx="87.04" cy="428.48" r="3.65" fill="#3aaa6a"/>
<circle cx="93.35" cy="430.22" r="3.65" fill="#3aaa6a"/>
<circle cx="99.66" cy="431.86" r="3.65" fill="#3aaa6a"/>
<circle cx="105.97" cy="433.41" r="3.65" fill="#3aaa6a"/>
<circle cx="112.28" cy="434.88" r="3.65" fill="#3aaa6a"/>
<circle cx="118.59" cy="436.27" r="3.65" fill="#3aaa6a"/>
<circle cx="124.9" cy="437.59" r="3.65" fill="#3aaa6a"/>
<circle cx="131.21" cy="438.83" r="3.65" fill="#3aaa6a"/>
<circle cx="137.52" cy="440.01" r="3.65" fill="#3aaa6a"/>
<circle cx="143.83" cy="441.12" r="3.65" fill="#3aaa6a"/>
<circle cx="150.14" cy="442.18" r="3.65" fill="#3aaa6a"/>
<circle cx="156.45" cy="443.17" r="3.65" fill="#3aaa6a"/>
<circle cx="162.76" cy="444.11" r="3.65" fill="#3aaa6a"/>
<circle cx="169.07" cy="445.01" r="3.65" fill="#3aaa6a"/>
<circle cx="175.38" cy="445.85" r="3.65" fill="#3aaa6a"/>
<circle cx="181.69" cy="446.65" r="3.65" fill="#3aaa6a"/>
<circle cx="188" cy="447.4" r="3.65" fill="#3aaa6a"/>
<circle cx="194.31" cy="448.11" r="3.65" fill="#3aaa6a"/>
<circle cx="200.62" cy="448.79" r="3.65" fill="#3aaa6a"/>
<circle cx="206.93" cy="449.43" r="3.65" fill="#3aaa6a"/>
<circle cx="213.24" cy="450.03" r="3.65" fill="#3aaa6a"/>
<circle cx="219.55" cy="450.6" r="3.65" fill="#3aaa6a"/>
<circle cx="225.86" cy="451.15" r="3.65" fill="#3aaa6a"/>
<circle cx="232.17" cy="451.66" r="3.65" fill="#3aaa6a"/>
<circle cx="238.48" cy="452.14" r="3.65" fill="#3aaa6a"/>
<circle cx="244.79" cy="452.6" r="3.65" fill="#3aaa6a"/>
<circle cx="251.1" cy="453.03" r="3.65" fill="#3aaa6a"/>
<circle cx="257.41" cy="453.44" r="3.65" fill="#3aaa6a"/>
<circle cx="263.72" cy="453.83" r="3.65" fill="#3aaa6a"/>
<circle cx="270.03" cy="454.2" r="3.65" fill="#3aaa6a"/>
<circle cx="276.34" cy="454.54" r="3.65" fill="#3aaa6a"/>
<circle cx="282.65" cy="454.87" r="3.65" fill="#3aaa6a"/>
<circle cx="288.96" cy="455.18" r="3.65" fill="#3aaa6a"/>
<circle cx="61.8" cy="518.81" r="3.65" fill="#1f6be0"/>
<circle cx="68.11" cy="518.81" r="3.65" fill="#1f6be0"/>
<circle cx="74.42" cy="519.05" r="3.65" fill="#1f6be0"/>
<circle cx="80.73" cy="520.98" r="3.65" fill="#1f6be0"/>
<circle cx="87.04" cy="521.42" r="3.65" fill="#1f6be0"/>
<circle cx="93.35" cy="521.86" r="3.65" fill="#1f6be0"/>
<circle cx="99.66" cy="522.32" r="3.65" fill="#1f6be0"/>
<circle cx="105.97" cy="522.78" r="3.65" fill="#1f6be0"/>
<circle cx="112.28" cy="523.26" r="3.65" fill="#1f6be0"/>
<circle cx="118.59" cy="523.74" r="3.65" fill="#1f6be0"/>
<circle cx="124.9" cy="524.23" r="3.65" fill="#1f6be0"/>
<circle cx="131.21" cy="524.74" r="3.65" fill="#1f6be0"/>
<circle cx="137.52" cy="525.25" r="3.65" fill="#1f6be0"/>
<circle cx="143.83" cy="525.77" r="3.65" fill="#1f6be0"/>
<circle cx="150.14" cy="526.31" r="3.65" fill="#1f6be0"/>
<circle cx="156.45" cy="526.85" r="3.65" fill="#1f6be0"/>
<circle cx="162.76" cy="527.4" r="3.65" fill="#1f6be0"/>
<circle cx="169.07" cy="527.96" r="3.65" fill="#1f6be0"/>
<circle cx="175.38" cy="528.54" r="3.65" fill="#1f6be0"/>
<circle cx="181.69" cy="529.12" r="3.65" fill="#1f6be0"/>
<circle cx="188" cy="529.71" r="3.65" fill="#1f6be0"/>
<circle cx="194.31" cy="530.31" r="3.65" fill="#1f6be0"/>
<circle cx="200.62" cy="530.92" r="3.65" fill="#1f6be0"/>
<circle cx="206.93" cy="531.54" r="3.65" fill="#1f6be0"/>
<circle cx="213.24" cy="532.17" r="3.65" fill="#1f6be0"/>
<circle cx="219.55" cy="532.81" r="3.65" fill="#1f6be0"/>
<circle cx="225.86" cy="533.46" r="3.65" fill="#1f6be0"/>
<circle cx="232.17" cy="534.12" r="3.65" fill="#1f6be0"/>
<circle cx="238.48" cy="534.79" r="3.65" fill="#1f6be0"/>
<circle cx="244.79" cy="535.47" r="3.65" fill="#1f6be0"/>
<circle cx="251.1" cy="536.16" r="3.65" fill="#1f6be0"/>
<circle cx="257.41" cy="536.86" r="3.65" fill="#1f6be0"/>
<circle cx="263.72" cy="537.57" r="3.65" fill="#1f6be0"/>
<circle cx="270.03" cy="538.28" r="3.65" fill="#1f6be0"/>
<circle cx="276.34" cy="539.01" r="3.65" fill="#1f6be0"/>
<circle cx="282.65" cy="539.75" r="3.65" fill="#1f6be0"/>
<circle cx="288.96" cy="540.5" r="3.65" fill="#1f6be0"/>
<circle cx="89.9" cy="464.1" r="3.85" fill="#ff0000"/>
<circle cx="89.9" cy="479.5" r="3.85" fill="#3aaa6a"/>
<circle cx="89.9" cy="497.6" r="3.85" fill="#1f6be0"/>
<text x="99.8" y="467.8" font-size="11.8" fill="#222" text-anchor="start"  textLength="50.2" lengthAdjust="spacingAndGlyphs">1.1Co-S-1</text>
<text x="99.8" y="483" font-size="11.8" fill="#222" text-anchor="start"  textLength="63.6" lengthAdjust="spacingAndGlyphs">PtSn/Al<tspan font-size="8.3" dy="3">2</tspan><tspan dy="-3">O</tspan><tspan font-size="8.3" dy="3">3</tspan></text>
<text x="99.8" y="501.2" font-size="11.8" fill="#222" text-anchor="start"  textLength="76.8" lengthAdjust="spacingAndGlyphs">K-CrO<tspan font-size="8.3" dy="3" font-style="italic">x</tspan><tspan dy="-3">/Al</tspan><tspan font-size="8.3" dy="3">2</tspan><tspan dy="-3">O</tspan><tspan font-size="8.3" dy="3">3</tspan></text>
<polyline points="116.3,414.5 116.3,391.4 71,391.4" fill="none" stroke="#111" stroke-width="1.2"/>
<path d="M66.4 391.4L72.4 388.9L71 391.4L72.4 393.9Z" fill="#111"/>
<polyline points="231.1,357.9 231.1,381.8 283,381.8" fill="none" stroke="#111" stroke-width="1.2"/>
<path d="M287.6 381.8L281.6 379.3L283 381.8L281.6 384.3Z" fill="#111"/>
<rect x="428" y="335.5" width="247.7" height="247.4" fill="none" stroke="#666" stroke-width="1.2" />
<line x1="423.3" y1="354.28" x2="428" y2="354.28" stroke="#666" stroke-width="1.2" />
<text x="417.4" y="358.13" font-size="10.8" fill="#222" text-anchor="end"  textLength="14.7" lengthAdjust="spacingAndGlyphs">1.0</text>
<line x1="423.3" y1="430.52" x2="428" y2="430.52" stroke="#666" stroke-width="1.2" />
<text x="417.4" y="434.37" font-size="10.8" fill="#222" text-anchor="end"  textLength="16.4" lengthAdjust="spacingAndGlyphs">0.8</text>
<line x1="423.3" y1="506.76" x2="428" y2="506.76" stroke="#666" stroke-width="1.2" />
<text x="417.4" y="510.61" font-size="10.8" fill="#222" text-anchor="end"  textLength="16.4" lengthAdjust="spacingAndGlyphs">0.6</text>
<line x1="423.3" y1="583" x2="428" y2="583" stroke="#666" stroke-width="1.2" />
<text x="417.4" y="586.85" font-size="10.8" fill="#222" text-anchor="end"  textLength="16.6" lengthAdjust="spacingAndGlyphs">0.4</text>
<line x1="441.9" y1="582.9" x2="441.9" y2="587.4" stroke="#666" stroke-width="1.2" />
<text x="441.9" y="601.3" font-size="10.8" fill="#222" text-anchor="middle"  textLength="7.5" lengthAdjust="spacingAndGlyphs">0</text>
<line x1="497.5" y1="582.9" x2="497.5" y2="587.4" stroke="#666" stroke-width="1.2" />
<text x="497.5" y="601.3" font-size="10.8" fill="#222" text-anchor="middle"  textLength="14.7" lengthAdjust="spacingAndGlyphs">0.1</text>
<line x1="553.1" y1="582.9" x2="553.1" y2="587.4" stroke="#666" stroke-width="1.2" />
<text x="553.1" y="601.3" font-size="10.8" fill="#222" text-anchor="middle"  textLength="16.4" lengthAdjust="spacingAndGlyphs">0.2</text>
<line x1="608.7" y1="582.9" x2="608.7" y2="587.4" stroke="#666" stroke-width="1.2" />
<text x="608.7" y="601.3" font-size="10.8" fill="#222" text-anchor="middle"  textLength="16.4" lengthAdjust="spacingAndGlyphs">0.3</text>
<line x1="664.3" y1="582.9" x2="664.3" y2="587.4" stroke="#666" stroke-width="1.2" />
<text x="664.3" y="601.3" font-size="10.8" fill="#222" text-anchor="middle"  textLength="16.6" lengthAdjust="spacingAndGlyphs">0.4</text>
<text x="552.2" y="619.6" font-size="12.0" fill="#222" text-anchor="middle"  textLength="58.4" lengthAdjust="spacingAndGlyphs"><tspan font-style="italic">C</tspan>(C<tspan font-size="8.8" dy="3">3</tspan><tspan dy="-3">H</tspan><tspan font-size="8.8" dy="3">6</tspan><tspan dy="-3">)</tspan><tspan font-size="8.8" dy="3">out</tspan></text>
<g transform="translate(388,460.7) rotate(-90)">
<text x="0" y="0" font-size="12.0" fill="#222" text-anchor="middle"  textLength="43.6" lengthAdjust="spacingAndGlyphs"><tspan font-style="italic">S</tspan>(C<tspan font-size="8.8" dy="3">3</tspan><tspan dy="-3">H</tspan><tspan font-size="8.8" dy="3">6</tspan><tspan dy="-3">)</tspan></text>
</g>
<line x1="441.3" y1="350" x2="553.4" y2="350" stroke="#555" stroke-width="1.35" stroke-dasharray="6.1 5.48"/>
<line x1="441.3" y1="410.8" x2="553.4" y2="410.8" stroke="#555" stroke-width="1.35" stroke-dasharray="6.1 5.48"/>
<line x1="442" y1="349.3" x2="442" y2="411.5" stroke="#555" stroke-width="1.35" stroke-dasharray="6.1 5.48"/>
<line x1="552.7" y1="349.3" x2="552.7" y2="411.5" stroke="#555" stroke-width="1.35" stroke-dasharray="6.1 5.48"/>
<rect x="550.6" y="456.7" width="119.9" height="119.3" fill="none" stroke="#555" stroke-width="1.35" stroke-dasharray="5.3 5.94" stroke-dashoffset="0.3"/>
<line x1="555.1" y1="402.1" x2="598.5" y2="449.6" stroke="#555" stroke-width="1.35" stroke-dasharray="6.3 5.3"/>
<line x1="532.8" y1="412" x2="547.8" y2="474.1" stroke="#555" stroke-width="1.35" stroke-dasharray="5.7 5.7"/>
<path d="M462.5 354.6L465.75 360.4L459.25 360.4Z" fill="#7a7a7a"/>
<path d="M464.4 355L467.65 360.8L461.15 360.8Z" fill="#7a7a7a"/>
<path d="M469.8 355.1L473.05 360.9L466.55 360.9Z" fill="#7a7a7a"/>
<path d="M471.3 353L474.55 358.8L468.05 358.8Z" fill="#7a7a7a"/>
<path d="M484.9 354.7L488.15 360.5L481.65 360.5Z" fill="#7a7a7a"/>
<path d="M465.8 358.7L469.05 364.5L462.55 364.5Z" fill="#7a7a7a"/>
<path d="M463.6 362.3L466.85 368.1L460.35 368.1Z" fill="#7a7a7a"/>
<path d="M461 365.7L464.25 371.5L457.75 371.5Z" fill="#7a7a7a"/>
<path d="M462.8 366.3L466.05 372.1L459.55 372.1Z" fill="#7a7a7a"/>
<path d="M484 362.3L487.25 368.1L480.75 368.1Z" fill="#7a7a7a"/>
<path d="M492.4 362.3L495.65 368.1L489.15 368.1Z" fill="#7a7a7a"/>
<path d="M470.8 374.1L474.05 379.9L467.55 379.9Z" fill="#7a7a7a"/>
<path d="M481.2 374.1L484.45 379.9L477.95 379.9Z" fill="#7a7a7a"/>
<path d="M487.9 374.1L491.15 379.9L484.65 379.9Z" fill="#7a7a7a"/>
<path d="M490.1 374.1L493.35 379.9L486.85 379.9Z" fill="#7a7a7a"/>
<path d="M477.8 381.4L481.05 387.2L474.55 387.2Z" fill="#7a7a7a"/>
<path d="M484.9 385.3L488.15 391.1L481.65 391.1Z" fill="#7a7a7a"/>
<path d="M457.1 389.2L460.35 395L453.85 395Z" fill="#7a7a7a"/>
<path d="M466.2 400.3L469.45 406.1L462.95 406.1Z" fill="#7a7a7a"/>
<path d="M454.6 404.4L457.85 410.2L451.35 410.2Z" fill="#7a7a7a"/>
<path d="M500.4 353.3L503.65 359.1L497.15 359.1Z" fill="#7a7a7a"/>
<path d="M522.8 354.7L526.05 360.5L519.55 360.5Z" fill="#7a7a7a"/>
<path d="M504.9 374.1L508.15 379.9L501.65 379.9Z" fill="#7a7a7a"/>
<path d="M526.6 369.9L529.85 375.7L523.35 375.7Z" fill="#7a7a7a"/>
<path d="M539.3 370.1L542.55 375.9L536.05 375.9Z" fill="#7a7a7a"/>
<path d="M534.3 373L537.55 378.8L531.05 378.8Z" fill="#7a7a7a"/>
<path d="M536.3 377.8L539.55 383.6L533.05 383.6Z" fill="#7a7a7a"/>
<path d="M518.6 381.6L521.85 387.4L515.35 387.4Z" fill="#7a7a7a"/>
<path d="M549.7 377.8L552.95 383.6L546.45 383.6Z" fill="#7a7a7a"/>
<path d="M526.2 386.1L529.45 391.9L522.95 391.9Z" fill="#7a7a7a"/>
<path d="M522.8 393.1L526.05 398.9L519.55 398.9Z" fill="#7a7a7a"/>
<path d="M533.7 393.1L536.95 398.9L530.45 398.9Z" fill="#7a7a7a"/>
<path d="M528.4 396.8L531.65 402.6L525.15 402.6Z" fill="#7a7a7a"/>
<path d="M555.6 385.3L558.85 391.1L552.35 391.1Z" fill="#7a7a7a"/>
<path d="M562.3 388.7L565.55 394.5L559.05 394.5Z" fill="#7a7a7a"/>
<path d="M664.6 354.9L667.85 360.7L661.35 360.7Z" fill="#7a7a7a"/>
<path d="M477.7 415.3L480.95 421.1L474.45 421.1Z" fill="#7a7a7a"/>
<path d="M502.5 411.7L505.75 417.5L499.25 417.5Z" fill="#7a7a7a"/>
<path d="M529.8 419.4L533.05 425.2L526.55 425.2Z" fill="#7a7a7a"/>
<path d="M548.5 427.5L551.75 433.3L545.25 433.3Z" fill="#7a7a7a"/>
<path d="M475 434.8L478.25 440.6L471.75 440.6Z" fill="#7a7a7a"/>
<path d="M479.7 438.7L482.95 444.5L476.45 444.5Z" fill="#7a7a7a"/>
<path d="M462.2 442.4L465.45 448.2L458.95 448.2Z" fill="#7a7a7a"/>
<path d="M501.3 468.9L504.55 474.7L498.05 474.7Z" fill="#7a7a7a"/>
<path d="M456.8 522.2L460.05 528L453.55 528Z" fill="#7a7a7a"/>
<path d="M522.9 522.2L526.15 528L519.65 528Z" fill="#7a7a7a"/>
<path d="M446.1 560.2L449.35 566L442.85 566Z" fill="#7a7a7a"/>
<path d="M570.8 467L574.05 472.8L567.55 472.8Z" fill="#7a7a7a"/>
<path d="M573.5 467L576.75 472.8L570.25 472.8Z" fill="#7a7a7a"/>
<path d="M578.5 467L581.75 472.8L575.25 472.8Z" fill="#7a7a7a"/>
<path d="M581 464.4L584.25 470.2L577.75 470.2Z" fill="#7a7a7a"/>
<path d="M595.1 467L598.35 472.8L591.85 472.8Z" fill="#7a7a7a"/>
<path d="M612 464.4L615.25 470.2L608.75 470.2Z" fill="#7a7a7a"/>
<path d="M635.8 467L639.05 472.8L632.55 472.8Z" fill="#7a7a7a"/>
<path d="M574.6 474L577.85 479.8L571.35 479.8Z" fill="#7a7a7a"/>
<path d="M586.8 481.1L590.05 486.9L583.55 486.9Z" fill="#7a7a7a"/>
<path d="M572 481.1L575.25 486.9L568.75 486.9Z" fill="#7a7a7a"/>
<path d="M594.5 481.1L597.75 486.9L591.25 486.9Z" fill="#7a7a7a"/>
<path d="M602.8 481.1L606.05 486.9L599.55 486.9Z" fill="#7a7a7a"/>
<path d="M586 482.1L589.25 487.9L582.75 487.9Z" fill="#7a7a7a"/>
<path d="M567.6 488.1L570.85 493.9L564.35 493.9Z" fill="#7a7a7a"/>
<path d="M570.8 488.1L574.05 493.9L567.55 493.9Z" fill="#7a7a7a"/>
<path d="M580.4 502.2L583.65 508L577.15 508Z" fill="#7a7a7a"/>
<path d="M591.3 502.2L594.55 508L588.05 508Z" fill="#7a7a7a"/>
<path d="M598.3 502.2L601.55 508L595.05 508Z" fill="#7a7a7a"/>
<path d="M601.5 502.2L604.75 508L598.25 508Z" fill="#7a7a7a"/>
<path d="M616.5 502.2L619.75 508L613.25 508Z" fill="#7a7a7a"/>
<path d="M639.9 495.2L643.15 501L636.65 501Z" fill="#7a7a7a"/>
<path d="M653.7 495.2L656.95 501L650.45 501Z" fill="#7a7a7a"/>
<path d="M648.6 501.6L651.85 507.4L645.35 507.4Z" fill="#7a7a7a"/>
<path d="M650.5 509.3L653.75 515.1L647.25 515.1Z" fill="#7a7a7a"/>
<path d="M664.6 509.3L667.85 515.1L661.35 515.1Z" fill="#7a7a7a"/>
<path d="M588.1 516.5L591.35 522.3L584.85 522.3Z" fill="#7a7a7a"/>
<path d="M595.5 523.5L598.75 529.3L592.25 529.3Z" fill="#7a7a7a"/>
<path d="M631.5 516.4L634.75 522.2L628.25 522.2Z" fill="#7a7a7a"/>
<path d="M639.8 524.9L643.05 530.7L636.55 530.7Z" fill="#7a7a7a"/>
<path d="M636 537.6L639.25 543.4L632.75 543.4Z" fill="#7a7a7a"/>
<path d="M648 537.6L651.25 543.4L644.75 543.4Z" fill="#7a7a7a"/>
<path d="M642.1 544.6L645.35 550.4L638.85 550.4Z" fill="#7a7a7a"/>
<path d="M565.4 530.2L568.65 536L562.15 536Z" fill="#7a7a7a"/>
<path d="M575.1 551.8L578.35 557.6L571.85 557.6Z" fill="#7a7a7a"/>
<path d="M562.5 558.6L565.75 564.4L559.25 564.4Z" fill="#7a7a7a"/>
<text x="559.8" y="384.4" font-size="9" fill="#222" text-anchor="middle"  textLength="8.8" lengthAdjust="spacingAndGlyphs">21</text>
<text x="567.8" y="393.4" font-size="9" fill="#222" text-anchor="middle"  textLength="8.8" lengthAdjust="spacingAndGlyphs">13</text>
<text x="657.5" y="357.9" font-size="9" fill="#222" text-anchor="middle"  textLength="4.4" lengthAdjust="spacingAndGlyphs">1</text>
<text x="486.4" y="422.9" font-size="9" fill="#222" text-anchor="middle"  textLength="8.8" lengthAdjust="spacingAndGlyphs">28</text>
<text x="511.2" y="420" font-size="9" fill="#222" text-anchor="middle"  textLength="8.8" lengthAdjust="spacingAndGlyphs">32</text>
<text x="529" y="434.6" font-size="9" fill="#222" text-anchor="middle"  textLength="8.8" lengthAdjust="spacingAndGlyphs">41</text>
<text x="548.5" y="442.2" font-size="9" fill="#222" text-anchor="middle"  textLength="8.8" lengthAdjust="spacingAndGlyphs">12</text>
<text x="467" y="438.2" font-size="9" fill="#222" text-anchor="middle"  textLength="8.8" lengthAdjust="spacingAndGlyphs">44</text>
<text x="487.4" y="445.8" font-size="9" fill="#222" text-anchor="middle"  textLength="8.8" lengthAdjust="spacingAndGlyphs">14</text>
<text x="453.9" y="444.1" font-size="9" fill="#222" text-anchor="middle"  textLength="8.8" lengthAdjust="spacingAndGlyphs">39</text>
<text x="509.3" y="471.5" font-size="9" fill="#222" text-anchor="middle"  textLength="8.8" lengthAdjust="spacingAndGlyphs">40</text>
<text x="464.1" y="525.8" font-size="9" fill="#222" text-anchor="middle"  textLength="8.8" lengthAdjust="spacingAndGlyphs">29</text>
<text x="525.4" y="523.9" font-size="9" fill="#222" text-anchor="middle"  textLength="8.8" lengthAdjust="spacingAndGlyphs">11</text>
<text x="453.1" y="562.3" font-size="9" fill="#222" text-anchor="middle"  textLength="8.8" lengthAdjust="spacingAndGlyphs">30</text>
<text x="566.3" y="470.9" font-size="9" fill="#222" text-anchor="middle"  textLength="4.4" lengthAdjust="spacingAndGlyphs">4</text>
<text x="574" y="467.6" font-size="9" fill="#222" text-anchor="middle"  textLength="4.4" lengthAdjust="spacingAndGlyphs">9</text>
<text x="586.2" y="466" font-size="9" fill="#222" text-anchor="middle"  textLength="8.8" lengthAdjust="spacingAndGlyphs">46</text>
<text x="600.9" y="469.2" font-size="9" fill="#222" text-anchor="middle"  textLength="8.8" lengthAdjust="spacingAndGlyphs">42</text>
<text x="616.3" y="468.3" font-size="9" fill="#222" text-anchor="middle"  textLength="4.4" lengthAdjust="spacingAndGlyphs">2</text>
<text x="642.2" y="469.9" font-size="9" fill="#222" text-anchor="middle"  textLength="8.8" lengthAdjust="spacingAndGlyphs">49</text>
<text x="568.8" y="481.4" font-size="9" fill="#222" text-anchor="middle"  textLength="4.4" lengthAdjust="spacingAndGlyphs">8</text>
<text x="585.5" y="478.8" font-size="9" fill="#222" text-anchor="middle"  textLength="8.8" lengthAdjust="spacingAndGlyphs">47</text>
<text x="563.1" y="488.5" font-size="9" fill="#222" text-anchor="middle"  textLength="8.8" lengthAdjust="spacingAndGlyphs">22</text>
<text x="595.1" y="494.9" font-size="9" fill="#222" text-anchor="middle"  textLength="8.8" lengthAdjust="spacingAndGlyphs">43</text>
<text x="610.8" y="485.9" font-size="9" fill="#222" text-anchor="middle"  textLength="8.8" lengthAdjust="spacingAndGlyphs">45</text>
<text x="584.9" y="494.9" font-size="9" fill="#222" text-anchor="middle"  textLength="4.4" lengthAdjust="spacingAndGlyphs">5</text>
<text x="562.4" y="501.9" font-size="9" fill="#222" text-anchor="middle"  textLength="8.8" lengthAdjust="spacingAndGlyphs">23</text>
<text x="575.9" y="498.1" font-size="9" fill="#222" text-anchor="middle"  textLength="4.4" lengthAdjust="spacingAndGlyphs">7</text>
<text x="574.6" y="508.3" font-size="9" fill="#222" text-anchor="middle"  textLength="4.4" lengthAdjust="spacingAndGlyphs">6</text>
<text x="584.9" y="505.8" font-size="9" fill="#222" text-anchor="middle"  textLength="8.8" lengthAdjust="spacingAndGlyphs">37</text>
<text x="598.3" y="502.6" font-size="9" fill="#222" text-anchor="middle"  textLength="8.8" lengthAdjust="spacingAndGlyphs">27</text>
<text x="608" y="505.1" font-size="9" fill="#222" text-anchor="middle"  textLength="8.8" lengthAdjust="spacingAndGlyphs">26</text>
<text x="623" y="509.4" font-size="9" fill="#222" text-anchor="middle"  textLength="8.8" lengthAdjust="spacingAndGlyphs">17</text>
<text x="639.4" y="494.9" font-size="9" fill="#222" text-anchor="middle"  textLength="8.8" lengthAdjust="spacingAndGlyphs">18</text>
<text x="654.4" y="496.8" font-size="9" fill="#222" text-anchor="middle"  textLength="8.8" lengthAdjust="spacingAndGlyphs">19</text>
<text x="655" y="508.6" font-size="9" fill="#222" text-anchor="middle"  textLength="8.8" lengthAdjust="spacingAndGlyphs">34</text>
<text x="643.5" y="521.2" font-size="9" fill="#222" text-anchor="middle"  textLength="8.8" lengthAdjust="spacingAndGlyphs">36</text>
<text x="663" y="522.8" font-size="9" fill="#222" text-anchor="middle"  textLength="8.8" lengthAdjust="spacingAndGlyphs">20</text>
<text x="594.5" y="519.2" font-size="9" fill="#222" text-anchor="middle"  textLength="8.8" lengthAdjust="spacingAndGlyphs">38</text>
<text x="604.6" y="529.9" font-size="9" fill="#222" text-anchor="middle"  textLength="8.8" lengthAdjust="spacingAndGlyphs">24</text>
<text x="624.9" y="520.1" font-size="9" fill="#222" text-anchor="middle"  textLength="8.8" lengthAdjust="spacingAndGlyphs">31</text>
<text x="646.5" y="529.3" font-size="9" fill="#222" text-anchor="middle"  textLength="8.8" lengthAdjust="spacingAndGlyphs">50</text>
<text x="626.6" y="544.8" font-size="9" fill="#222" text-anchor="middle"  textLength="8.8" lengthAdjust="spacingAndGlyphs">48</text>
<text x="655.5" y="549.2" font-size="9" fill="#222" text-anchor="middle"  textLength="8.8" lengthAdjust="spacingAndGlyphs">35</text>
<text x="641.2" y="560.5" font-size="9" fill="#222" text-anchor="middle"  textLength="8.8" lengthAdjust="spacingAndGlyphs">33</text>
<text x="558.8" y="534.3" font-size="9" fill="#222" text-anchor="middle"  textLength="8.8" lengthAdjust="spacingAndGlyphs">10</text>
<text x="574.2" y="551.1" font-size="9" fill="#222" text-anchor="middle"  textLength="8.8" lengthAdjust="spacingAndGlyphs">16</text>
<text x="558.1" y="560.2" font-size="9" fill="#222" text-anchor="middle"  textLength="4.4" lengthAdjust="spacingAndGlyphs">3</text>
<polygon points="477.4,357.9 478.81,361.96 483.11,362.05 479.68,364.64 480.93,368.75 477.4,366.3 473.87,368.75 475.12,364.64 471.69,362.05 475.99,361.96" fill="#ff00ff"/>
<polygon points="511.6,366.6 513.01,370.66 517.31,370.75 513.88,373.34 515.13,377.45 511.6,375 508.07,377.45 509.32,373.34 505.89,370.75 510.19,370.66" fill="#33a466"/>
<polygon points="531.5,373.4 532.91,377.46 537.21,377.55 533.78,380.14 535.03,384.25 531.5,381.8 527.97,384.25 529.22,380.14 525.79,377.55 530.09,377.46" fill="#fe1a46"/>
<polygon points="544.4,386.1 545.81,390.16 550.11,390.25 546.68,392.84 547.93,396.95 544.4,394.5 540.87,396.95 542.12,392.84 538.69,390.25 542.99,390.16" fill="#fe1a46"/>
<polygon points="586.8,475.9 588.21,479.96 592.51,480.05 589.08,482.64 590.33,486.75 586.8,484.3 583.27,486.75 584.52,482.64 581.09,480.05 585.39,479.96" fill="#ff00ff"/>
<polygon points="624,491.7 625.41,495.76 629.71,495.85 626.28,498.44 627.53,502.55 624,500.1 620.47,502.55 621.72,498.44 618.29,495.85 622.59,495.76" fill="#33a466"/>
<polygon points="645.4,503.5 646.81,507.56 651.11,507.65 647.68,510.24 648.93,514.35 645.4,511.9 641.87,514.35 643.12,510.24 639.69,507.65 643.99,507.56" fill="#fe1a46"/>
<polygon points="659.3,526.8 660.71,530.86 665.01,530.95 661.58,533.54 662.83,537.65 659.3,535.2 655.77,537.65 657.02,533.54 653.59,530.95 657.89,530.86" fill="#fe1a46"/>
<path d="M604.9 377.4L608.05 382.4L601.75 382.4Z" fill="#7a7a7a"/>
<polygon points="604.9,386.4 606.26,390.32 610.42,390.41 607.11,392.92 608.31,396.89 604.9,394.52 601.49,396.89 602.69,392.92 599.38,390.41 603.54,390.32" fill="#ff00ff"/>
<polygon points="604.9,399.2 606.26,403.12 610.42,403.21 607.11,405.72 608.31,409.69 604.9,407.32 601.49,409.69 602.69,405.72 599.38,403.21 603.54,403.12" fill="#33a466"/>
<polygon points="604.9,411.5 606.26,415.42 610.42,415.51 607.11,418.02 608.31,421.99 604.9,419.62 601.49,421.99 602.69,418.02 599.38,415.51 603.54,415.42" fill="#fe1a46"/>
<text x="617.4" y="382.6" font-size="10.6" fill="#222" text-anchor="start" >Pt</text>
<text x="617.4" y="395.5" font-size="10.6" fill="#222" text-anchor="start"  textLength="53.3" lengthAdjust="spacingAndGlyphs">Co_500 °C</text>
<text x="617.4" y="407.8" font-size="10.6" fill="#222" text-anchor="start"  textLength="52.8" lengthAdjust="spacingAndGlyphs">Co_550 °C</text>
<text x="617.4" y="420.1" font-size="10.6" fill="#222" text-anchor="start"  textLength="53.3" lengthAdjust="spacingAndGlyphs">Co_600 °C</text>
</svg>
</body></html>
